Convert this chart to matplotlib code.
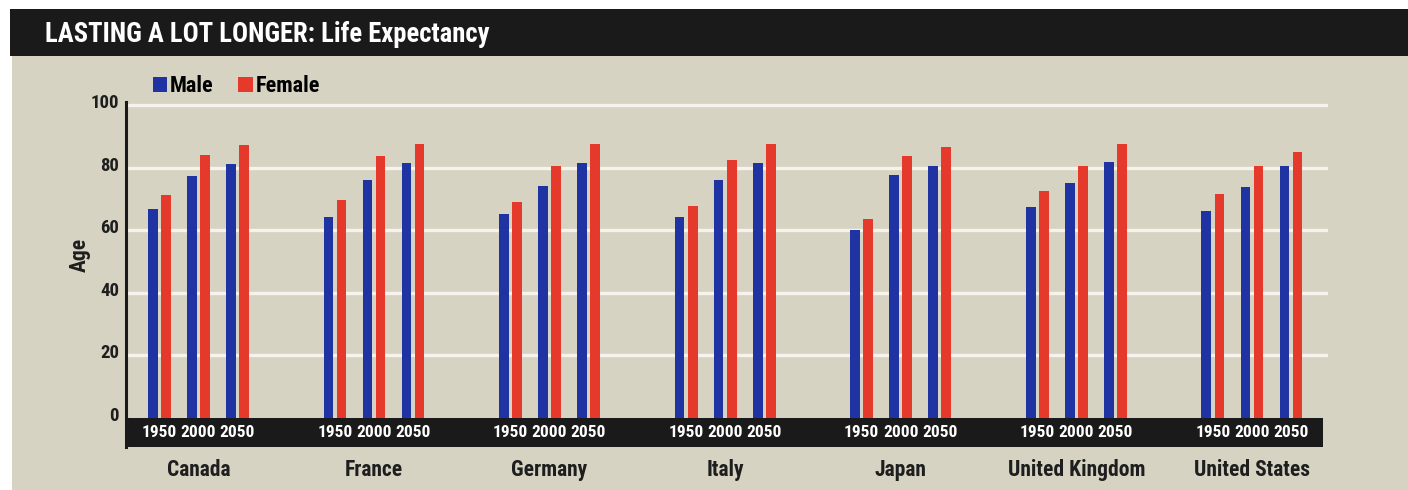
import matplotlib.pyplot as plt
from matplotlib import font_manager
from matplotlib.patches import Rectangle, Patch
from matplotlib.transforms import ScaledTranslation

# narrow bold face close to the original's condensed grotesque
installed = {f.name for f in font_manager.fontManager.ttflist}
face = next((n for n in ['Roboto Condensed', 'Archivo Narrow', 'PT Sans Narrow'] if n in installed), None)
if face:
    plt.rcParams['font.family'] = [face, 'DejaVu Sans']
else:
    plt.rcParams['font.family'] = ['DejaVu Sans']
    plt.rcParams['font.stretch'] = 'condensed'
plt.rcParams['font.weight'] = 'bold'

countries = ['Canada', 'France', 'Germany', 'Italy', 'Japan',
             'United Kingdom', 'United States']
years = ['1950', '2000', '2050']
male = [[66.8, 77.2, 81.2],
        [64.1, 76.0, 81.5],
        [65.2, 74.2, 81.6],
        [64.3, 76.0, 81.5],
        [60.1, 77.5, 80.6],
        [67.4, 75.2, 81.8],
        [66.2, 73.7, 80.4]]
female = [[71.1, 83.9, 87.3],
          [69.7, 83.6, 87.5],
          [68.9, 80.5, 87.5],
          [67.8, 82.4, 87.5],
          [63.6, 83.6, 86.5],
          [72.4, 80.5, 87.6],
          [71.7, 80.4, 85.1]]
yticks = [0, 20, 40, 60, 80, 100]

BLUE = '#1f33a3'
RED = '#e53a2b'
BG = '#d7d3c3'
DARK = '#1a1a1a'
TXT = '#1e1e1e'

W, H = 1408, 490
fig = plt.figure(figsize=(W / 100, H / 100), dpi=100, facecolor='white')

fig.patches.append(Rectangle((12 / W, 0), 1, 1 - 56 / H, transform=fig.transFigure,
                             facecolor=BG, edgecolor='none', zorder=-5))
fig.patches.append(Rectangle((10 / W, 1 - 56 / H), 1, 47 / H, transform=fig.transFigure,
                             facecolor=DARK, edgecolor='none', zorder=-5))
fig.text(45 / W, 1 - 34 / H, 'LASTING A LOT LONGER: Life Expectancy', color='white',
         fontsize=19.2, fontweight='bold', va='center', ha='left')

ax = fig.add_axes([126 / W, (H - 446.7) / H, 1202 / W, 344.8 / H])
ax.set_facecolor('none')

group_step = 4.5
bw = 0.25
off = 0.167
for i, c in enumerate(countries):
    for j, y in enumerate(years):
        x = i * group_step + j
        ax.bar(x - off, male[i][j], width=bw, color=BLUE, zorder=3)
        ax.bar(x + off, female[i][j], width=bw, color=RED, zorder=3)
        ax.text(x, -4.6, y, color='white', fontsize=12.5, fontweight='bold',
                ha='center', va='center', zorder=5)
    ax.text(i * group_step + 1, -16.6, c, color=TXT, fontsize=15.5,
            fontweight='bold', ha='center', va='center', clip_on=False)

xmax = (len(countries) - 1) * group_step + 2
ax.set_xlim(-0.854, xmax + 0.95)
ax.set_ylim(-9.2, 101)

for v in yticks[1:]:
    ax.axhline(v, color='#f5f3ec', linewidth=2.4, zorder=1)
ax.axhspan(-9.2, 0, xmin=0, xmax=0.9956, color=DARK, zorder=4, linewidth=0)

for s in ['top', 'right', 'bottom']:
    ax.spines[s].set_visible(False)
ax.spines['left'].set_linewidth(2.2)
ax.spines['left'].set_color(DARK)
ax.spines['left'].set_zorder(6)

ax.set_xticks([])
ax.set_yticks(yticks)
ax.set_yticklabels([str(v) for v in yticks], fontsize=13.5, fontweight='bold', color=TXT)
ax.tick_params(axis='y', length=0, pad=5)
for lab in ax.get_yticklabels():
    lab.set_transform(lab.get_transform() + ScaledTranslation(0, 4 / 100, fig.dpi_scale_trans))

fig.text(80 / W, 1 - 255 / H, 'Age', rotation=90, fontsize=15.5, fontweight='bold',
         color=TXT, ha='center', va='center')

handles = [Patch(facecolor=BLUE, label='Male'), Patch(facecolor=RED, label='Female')]
fig.legend(handles=handles, loc='center left', bbox_to_anchor=(153 / W, 1 - 86 / H),
           ncol=2, frameon=False, handlelength=0.65, handleheight=0.65,
           handletextpad=0.12, columnspacing=1.1, borderpad=0, borderaxespad=0,
           prop={'weight': 'bold', 'size': 16})

fig.savefig('out.png', dpi=100, facecolor='white')
